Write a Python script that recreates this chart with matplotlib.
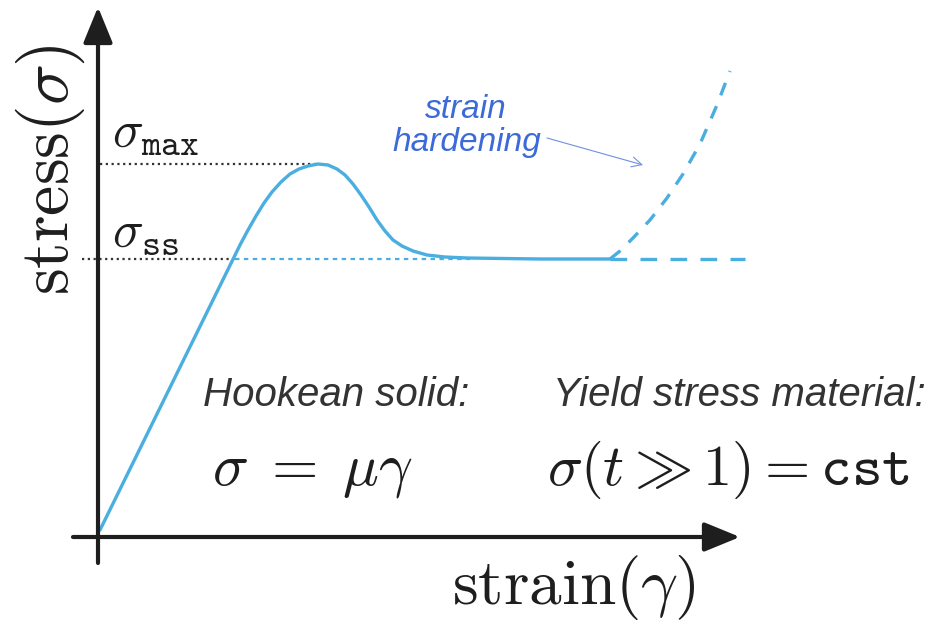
import matplotlib
matplotlib.use("Agg")
import matplotlib.pyplot as plt

plt.rcParams['mathtext.fontset'] = 'cm'

# stress-strain curve of a yield stress material (schematic units)
strain = [0.02, 1.42, 1.50, 1.58, 1.66, 1.74, 1.83, 1.92, 2.01, 2.10, 2.20,
          2.30, 2.39, 2.47, 2.55, 2.63, 2.71, 2.79, 2.87, 2.95, 3.04, 3.15,
          3.29, 3.47, 3.69, 4.42, 5.12]
stress = [0.07, 2.92, 3.07, 3.21, 3.34, 3.45, 3.55, 3.63, 3.68, 3.71, 3.73,
          3.72, 3.68, 3.62, 3.53, 3.42, 3.30, 3.17, 3.06, 2.97, 2.91, 2.86,
          2.82, 2.80, 2.79, 2.78, 2.78]

# strain hardening branch
hard_strain = [5.12, 5.22, 5.35, 5.52, 5.69, 5.85, 6.02, 6.19, 6.32]
hard_stress = [2.78, 2.86, 2.99, 3.17, 3.39, 3.63, 3.93, 4.32, 4.66]

# plateau continued without hardening
plateau_strain = [5.12, 6.47]

sigma_max = 3.73
sigma_ss = 2.78

blue = '#4aaee0'
text_blue = '#3c6ad8'
dark = '#1e1e1e'

fig = plt.figure(figsize=(9.44, 6.2), dpi=100)
ax = fig.add_axes([0, 0, 1, 1])
ax.set_xlim(-0.98, 8.46)
ax.set_ylim(-0.83, 5.37)
ax.axis('off')

# axes with arrow heads
arrow_kw = dict(arrowstyle='-|>,head_length=1.1,head_width=0.45',
                mutation_scale=20, lw=3, color=dark, shrinkA=0, shrinkB=0)
ax.annotate('', xy=(6.42, 0), xytext=(-0.25, 0), arrowprops=arrow_kw)
ax.annotate('', xy=(0, 5.30), xytext=(0, -0.26), arrowprops=arrow_kw)

# reference levels
ax.plot([0.02, 2.20], [sigma_max, sigma_max], color='#333333', lw=1.6,
        ls=(0, (1, 1.6)))
ax.plot([-0.16, 1.37], [sigma_ss, sigma_ss], color='#333333', lw=1.6,
        ls=(0, (1, 1.6)))
ax.plot([1.37, 3.72], [sigma_ss, sigma_ss], color=blue, lw=1.6,
        ls=(0, (2, 2)))

# curves
ax.plot(strain, stress, color=blue, lw=2.4, solid_capstyle='round',
        solid_joinstyle='round')
ax.plot(hard_strain, hard_stress, color=blue, lw=2.4, ls=(0, (4, 3.5)))
ax.plot(plateau_strain, [sigma_ss, sigma_ss], color=blue, lw=2.4,
        ls=(0, (5, 4)))

# labels on the axes
ax.text(0.14, 4.04, r'$\sigma_{\mathtt{max}}$', fontsize=37, va='center',
        ha='left', color=dark)
ax.text(0.14, 3.04, r'$\sigma_{\mathtt{ss}}$', fontsize=37, va='center',
        ha='left', color=dark)
ax.text(4.755, -0.50, r'$\mathrm{strain}(\gamma)$', fontsize=47,
        ha='center', va='center', color=dark)
ax.text(-0.48, 3.67, r'$\mathrm{stress}(\sigma)$', fontsize=49,
        ha='center', va='center', rotation=90, color=dark)

# annotation for the hardening branch
ax.text(3.68, 4.28, 'strain', fontsize=24, style='italic', ha='center',
        va='center', color=text_blue, family='Liberation Sans')
ax.text(3.69, 3.95, 'hardening', fontsize=24, style='italic', ha='center',
        va='center', color=text_blue, family='Liberation Sans')
ax.annotate('', xy=(5.45, 3.72), xytext=(4.49, 3.99),
            arrowprops=dict(arrowstyle='->', lw=0.8, color='#6f8fe6',
                            mutation_scale=18, shrinkA=0, shrinkB=0))

# material laws
ax.text(1.05, 1.42, 'Hookean solid:', fontsize=29, style='italic',
        ha='left', va='center', color='#333333', family='Liberation Sans')
ax.text(4.55, 1.42, 'Yield stress material:', fontsize=29, style='italic',
        ha='left', va='center', color='#333333', family='Liberation Sans')
ax.text(1.14, 0.67, r'$\sigma\;=\;\mu\gamma$', fontsize=43,
        ha='left', va='center', color=dark)
ax.text(4.49, 0.67, r'$\sigma(t \gg 1)=\mathtt{cst}$', fontsize=42,
        ha='left', va='center', color=dark)

fig.savefig('out.png', dpi=100)
